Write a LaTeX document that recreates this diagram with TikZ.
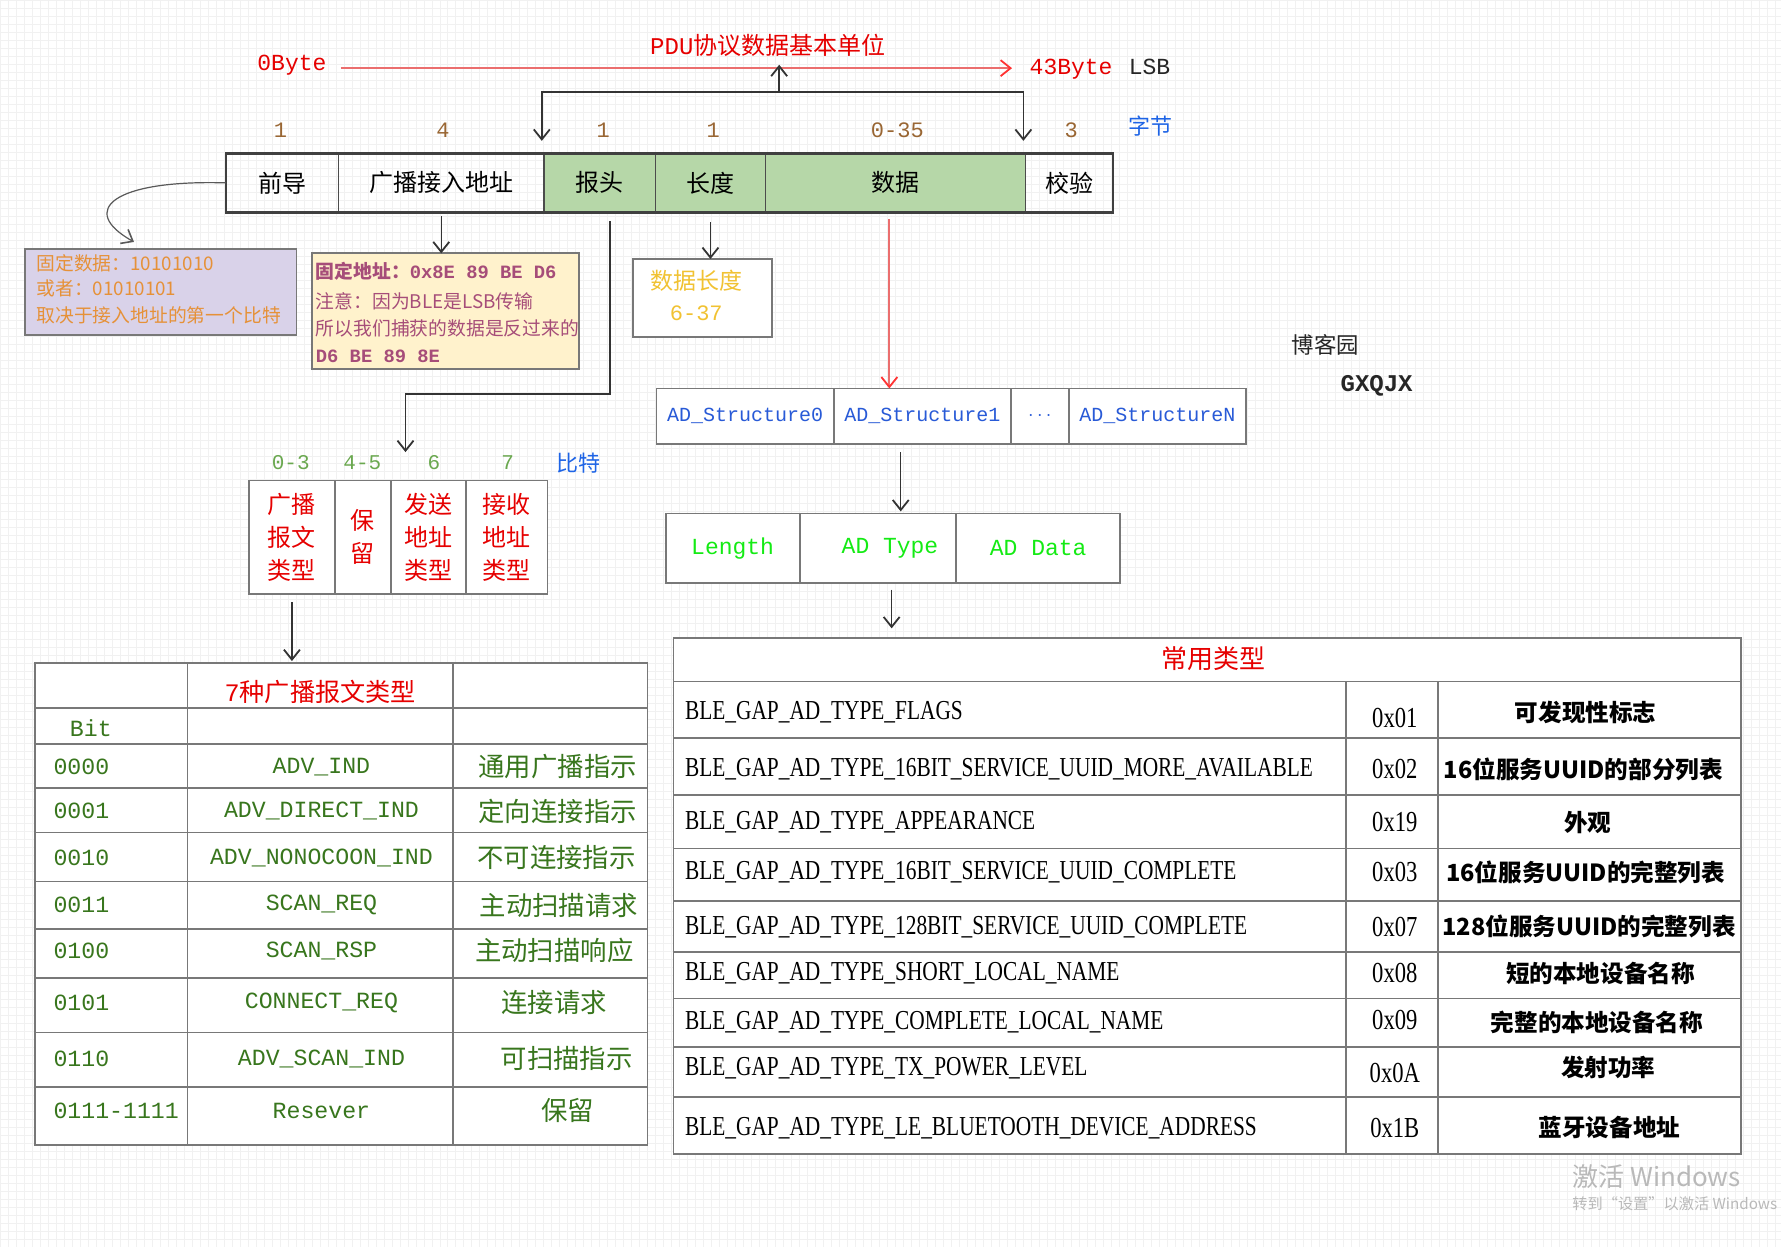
\documentclass[tikz,border=0pt]{standalone}
\usepackage{fontspec}
\setmainfont{Noto Sans CJK SC}
\setmonofont{Liberation Mono}
\newfontfamily\condfont[FakeStretch=0.78]{Liberation Serif}
\usetikzlibrary{fit,arrows.meta}

\definecolor{gfill}{RGB}{182,215,168}
\definecolor{purfill}{RGB}{217,210,233}
\definecolor{yelfill}{RGB}{255,242,204}
\definecolor{orangetxt}{RGB}{230,145,56}
\definecolor{magtxt}{RGB}{166,77,121}
\definecolor{goldtxt}{RGB}{241,194,50}
\definecolor{browntxt}{RGB}{153,102,51}
\definecolor{bluetxt}{RGB}{30,100,230}
\definecolor{adblue}{RGB}{40,90,215}
\definecolor{litegreen}{RGB}{106,168,79}
\definecolor{brightgreen}{RGB}{20,235,20}
\definecolor{darkgreen}{RGB}{56,118,29}
\definecolor{redtxt}{RGB}{230,0,0}
\definecolor{redline}{RGB}{235,110,110}
\definecolor{gridc}{RGB}{241,241,241}
\definecolor{bordergray}{RGB}{120,120,120}
\definecolor{wmgray}{RGB}{185,185,185}

\newcommand{\fsz}[2]{\fontsize{#1pt}{#2pt}\selectfont}
\newcommand{\mybox}[7]{%
  \node[fit={(#3,#4) (#5,#6)}, inner sep=0pt, outer sep=0pt, #2] (#1) {};
  \node[#2, draw=none, fill=none, inner sep=1pt] (#1t) at (#1.center) {#7};}

\tikzset{
  topcell/.style={draw=black!70, line width=0.6pt, font={\fsz{12}{14}}},
  gbox/.style={draw=bordergray, line width=0.9pt},
  tbl/.style={draw=bordergray, line width=0.9pt},
  tblline/.style={draw=bordergray, line width=0.9pt},
  arr/.style={draw=black!80, line width=0.7pt, -{Straight Barb[length=5pt,width=8pt,line width=0.9pt]}},
  arrboth/.style={draw=black!80, line width=0.7pt, {Straight Barb[length=5pt,width=8pt,line width=0.9pt]}-{Straight Barb[length=5pt,width=8pt,line width=0.9pt]}},
  arrthin/.style={draw=black!65, line width=0.6pt, -{Straight Barb[length=5pt,width=8pt,line width=0.8pt]}},
  redarr/.style={draw=redline, line width=0.9pt, -{Straight Barb[length=5pt,width=8pt,line width=0.9pt,red!80]}},
  redmono/.style={font={\ttfamily\fsz{11.5}{13}}, text=redtxt, inner sep=1pt},
  bytelab/.style={font={\ttfamily\fsz{11}{13}}, text=browntxt, inner sep=1pt},
  bitlab/.style={font={\ttfamily\fsz{10.5}{12}}, text=litegreen, inner sep=1pt},
  bluelab/.style={font={\fsz{11}{13}}, text=bluetxt, inner sep=1pt},
  purtxt/.style={font={\fsz{9.4}{11}}, text=orangetxt, inner sep=1pt, anchor=west},
  yeltxt/.style={font={\fsz{9.4}{11}}, text=magtxt, inner sep=1pt, anchor=west},
  adtxt/.style={font={\ttfamily\fsz{10}{12}}, text=adblue},
  lentxt/.style={font={\ttfamily\fsz{11.5}{13}}, text=brightgreen},
  bittxt/.style={font={\fsz{12}{16.5}}, text=redtxt, align=center},
  ltmono/.style={font={\ttfamily\fsz{11.6}{13}}, text=darkgreen, inner sep=1pt},
  ltcjk/.style={font={\fsz{13.2}{15}}, text=darkgreen, inner sep=1pt},
  rtname/.style={font={\condfont\fsz{13.7}{16}}, text=black, inner sep=1pt, anchor=west},
  rthex/.style={font={\condfont\fsz{14.5}{16}}, text=black, inner sep=1pt},
  rtcjk/.style={font={\bfseries\fsz{11.8}{14}}, text=black, inner sep=1pt},
}

\begin{document}
\begin{tikzpicture}[x=0.568pt, y=-0.568pt]
\useasboundingbox (0,0) rectangle (1568,1098);
\fill[white] (0,0) rectangle (1568,1098);
% faint canvas grid
\foreach \gx in {0,7.04,...,1568} {\draw[gridc, line width=0.3pt] (\gx,0) -- (\gx,1098);}
\foreach \gy in {0,7.04,...,1098} {\draw[gridc, line width=0.3pt] (0,\gy) -- (1568,\gy);}

% ---------- top: PDU range ----------
\node[font={\fsz{12}{14}}, text=redtxt, inner sep=1pt] (pdu) at (676,40) {{\ttfamily PDU}协议数据基本单位};
\node[redmono] (b0) at (257,57) {0Byte};
\node[redmono] (b43) at (943,61) {43Byte};
\node[font={\ttfamily\fsz{11.5}{13}}, text=black!85, inner sep=1pt] (lsb) at (1012,59) {LSB};
\coordinate (rs) at (300,60);
\coordinate (re) at (891,60);
\draw[redarr] (rs) -- (re);

\coordinate (bt) at (686,57);
\coordinate (bm) at (686,81);
\coordinate (bla) at (477,124);
\coordinate (brc) at (901,81);
\coordinate (bra) at (901,124);
\draw[arr] (bm) -- (bt);
\draw[arrboth] (bla) |- (brc) -- (bra);

% byte counts
\foreach \x/\t/\n in {247/1/n1, 390/4/n2, 531/1/n3, 628/1/n4, 790/0-35/n5, 943/3/n6}
  \node[bytelab] (\n) at (\x,115) {\t};
\node[bluelab] (zj) at (1013,111) {字节};

% ---------- packet row ----------
\mybox{pre}{topcell}{199}{135}{298}{187}{前导}
\mybox{addr}{topcell}{298}{135}{479}{187}{广播接入地址}
\mybox{hdr}{topcell, fill=gfill}{479}{135}{577}{187}{报头}
\mybox{len}{topcell, fill=gfill}{577}{135}{674}{187}{长度}
\mybox{dat}{topcell, fill=gfill}{674}{135}{903}{187}{数据}
\mybox{crc}{topcell}{903}{135}{980}{187}{校验}
\draw[black!75, line width=1.3pt] (pre.north west) rectangle (crc.south east);

% ---------- preamble note ----------
\mybox{pur}{gbox, fill=purfill}{22}{219}{261}{295}{}
\node[purtxt] (pt1) at (30,232) {固定数据：10101010};
\node[purtxt] (pt2) at (30,254) {或者：01010101};
\node[purtxt] (pt3) at (30,278) {取决于接入地址的第一个比特};
\coordinate (cend) at (118,213);
\draw[arrthin] (pre.west) .. controls (100,158) and (68,185) .. (cend);

% ---------- access address note ----------
\mybox{yel}{gbox, fill=yelfill}{275}{223}{510}{325}{}
\node[yeltxt] (yt1) at (276,239) {\bfseries 固定地址：{\ttfamily 0x8E 89 BE D6}};
\node[yeltxt] (yt2) at (276,265) {注意：因为BLE是LSB传输};
\node[yeltxt] (yt3) at (276,289) {所以我们捕获的数据是反过来的};
\node[yeltxt] (yt4) at (276,314) {\bfseries\ttfamily D6 BE 89 8E};
\draw[arr, shorten <=2pt] (addr.south) -- (addr.south |- yel.north);

% ---------- length note ----------
\mybox{dl}{gbox, fill=white}{557}{228}{680}{297}{}
\node[font={\fsz{11.5}{13}}, text=goldtxt, inner sep=1pt] (dl1) at (613,247) {数据长度};
\node[font={\ttfamily\fsz{11}{13}}, text=goldtxt, inner sep=1pt] (dl2) at (613,276) {6-37};
\draw[arr, shorten <=5pt] (len.south) -- (len.south |- dl.north);

% ---------- header bits ----------
\coordinate (hdrout) at (537,195);
\coordinate (bitin) at (357,398);
\draw[arr] (hdrout) -- (537,347) -- (357,347) -- (bitin);

\foreach \x/\t/\n in {256/0-3/k1, 319/4-5/k2, 382/6/k3, 447/7/k4}
  \node[bitlab] (\n) at (\x,407) {\t};
\node[bluelab] (bt2) at (509,408) {比特};

\mybox{c1}{gbox, fill=white, bittxt}{219}{423}{295}{523}{广播\\报文\\类型}
\mybox{c2}{gbox, fill=white, bittxt}{295}{423}{344}{523}{保\\留}
\mybox{c3}{gbox, fill=white, bittxt}{344}{423}{410}{523}{发送\\地址\\类型}
\mybox{c4}{gbox, fill=white, bittxt}{410}{423}{482}{523}{接收\\地址\\类型}
\draw[arr, shorten <=4pt] (c1.south) -- (c1.south |- 0,582);

% ---------- left table ----------
\mybox{lt}{tbl, fill=white}{31}{584}{570}{1008}{}
\foreach \y in {623,655,694,733,776,818,861,909,957}
  \draw[tblline] (31,\y) -- (570,\y);
\draw[tblline] (165,584) -- (165,1008);
\draw[tblline] (399,584) -- (399,1008);
\node[font={\fsz{12.6}{14}}, text=redtxt, inner sep=1pt] (lth) at (282,609) {{\ttfamily 7}种广播报文类型};
\node[ltmono] (ltb) at (80,641) {Bit};
\foreach \y/\c/\nm/\cn/\cx/\i in {
  675/0000/ADV\_IND/通用广播指示/491/1,
  714/0001/ADV\_DIRECT\_IND/定向连接指示/491/2,
  755/0010/ADV\_NONOCOON\_IND/不可连接指示/490/3,
  797/0011/SCAN\_REQ/主动扫描请求/492/4,
  837/0100/SCAN\_RSP/主动扫描响应/488/5,
  883/0101/CONNECT\_REQ/连接请求/488/6,
  932/0110/ADV\_SCAN\_IND/可扫描指示/499/7,
  978/0111-1111/Resever/保留/500/8}{
  \node[ltmono, anchor=west] (lc\i) at (45,\y) {\c};
  \node[ltmono] (ln\i) at (283,\y) {\nm};
  \node[ltcjk] (lz\i) at (\cx,\y) {\cn};
}

% ---------- AD structures ----------
\mybox{ads0}{gbox, fill=white, adtxt}{578}{342}{734}{391}{AD\_Structure0}
\mybox{ads1}{gbox, fill=white, adtxt}{734}{342}{890}{391}{AD\_Structure1}
\mybox{adsd}{gbox, fill=white, adtxt}{890}{342}{941}{391}{$\cdots$}
\mybox{adsN}{gbox, fill=white, adtxt}{941}{342}{1097}{391}{AD\_StructureN}
\coordinate (redout) at (783,193);
\draw[redarr] (redout) -- (redout |- ads1.north);

\mybox{lg}{gbox, fill=white, lentxt}{586}{452}{704}{513}{Length}
\mybox{ty}{gbox, fill=white, lentxt}{704}{452}{842}{513}{\hspace{12pt}AD Type}
\mybox{da}{gbox, fill=white, lentxt}{842}{452}{986}{513}{AD Data}
\coordinate (adout) at (793,398);
\draw[arr, shorten >=1pt] (adout) -- (adout |- ty.north);

% ---------- right table ----------
\mybox{rt}{tbl, fill=white}{593}{562}{1533}{1016}{}
\foreach \y in {600,650,700,747,793,838,879,922,966}
  \draw[tblline] (593,\y) -- (1533,\y);
\draw[tblline] (1185,600) -- (1185,1016);
\draw[tblline] (1266,600) -- (1266,1016);
\coordinate (lrout) at (785,519);
\draw[arr, shorten >=5pt] (lrout) -- (lrout |- rt.north);
\node[font={\fsz{13}{15}}, text=redtxt, inner sep=1pt] (rth) at (1068,580) {常用类型};
\foreach \y/\nm/\hx/\hy/\cn/\cx/\i in {
  627/BLE\_GAP\_AD\_TYPE\_FLAGS/0x01/632/可发现性标志/1396/1,
  677/BLE\_GAP\_AD\_TYPE\_16BIT\_SERVICE\_UUID\_MORE\_AVAILABLE/0x02/677/16位服务UUID的部分列表/1394/2,
  724/BLE\_GAP\_AD\_TYPE\_APPEARANCE/0x19/724/外观/1398/3,
  768/BLE\_GAP\_AD\_TYPE\_16BIT\_SERVICE\_UUID\_COMPLETE/0x03/768/16位服务UUID的完整列表/1396/4,
  816/BLE\_GAP\_AD\_TYPE\_128BIT\_SERVICE\_UUID\_COMPLETE/0x07/816/128位服务UUID的完整列表/1399/5,
  857/BLE\_GAP\_AD\_TYPE\_SHORT\_LOCAL\_NAME/0x08/857/短的本地设备名称/1409/6,
  900/BLE\_GAP\_AD\_TYPE\_COMPLETE\_LOCAL\_NAME/0x09/898/完整的本地设备名称/1406/7,
  940/BLE\_GAP\_AD\_TYPE\_TX\_POWER\_LEVEL/0x0A/945/发射功率/1416/8,
  993/BLE\_GAP\_AD\_TYPE\_LE\_BLUETOOTH\_DEVICE\_ADDRESS/0x1B/993/蓝牙设备地址/1417/9}{
  \node[rtname] (rn\i) at (601,\y) {\nm};
  \node[rthex] (rh\i) at (1228,\hy) {\hx};
  \node[rtcjk] (rz\i) at (\cx,\y) {\cn};
}

% ---------- misc text ----------
\node[font={\fsz{11.2}{13}}, text=black!85, inner sep=1pt] (blog) at (1167,304) {博客园};
\node[font={\ttfamily\bfseries\fsz{12}{14}}, text=black!85, inner sep=1pt] (gx) at (1212,340) {GXQJX};
\node[font={\fsz{13}{15}}, text=wmgray, anchor=west, inner sep=0pt] (wm1) at (1384,1036) {激活 Windows};
\node[font={\fsz{7.6}{9}}, text=wmgray, anchor=west, inner sep=0pt] (wm2) at (1384,1060) {转到“设置”以激活 Windows};
\end{tikzpicture}
\end{document}
